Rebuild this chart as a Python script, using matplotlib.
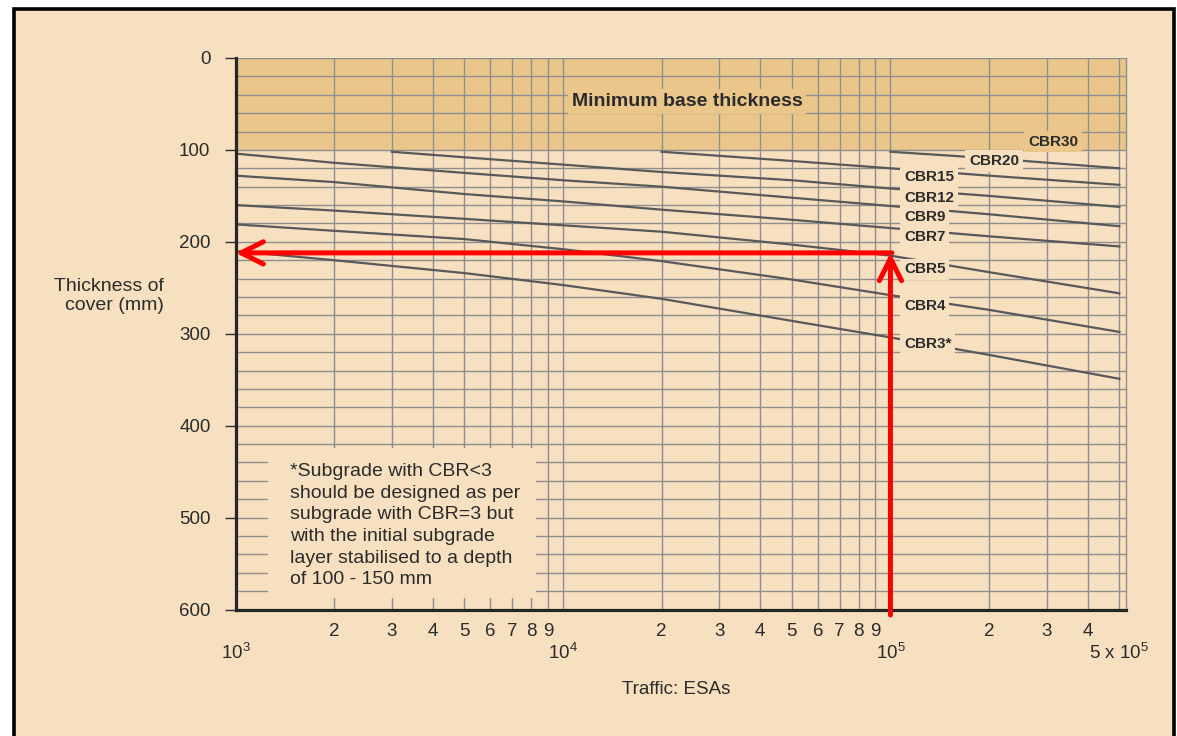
import matplotlib
matplotlib.use('Agg')
import matplotlib.pyplot as plt
from matplotlib.patches import Rectangle
import numpy as np

plt.rcParams['font.family'] = ['Liberation Sans', 'DejaVu Sans']
plt.rcParams['mathtext.default'] = 'regular'

# traffic (ESAs) and cover thickness (mm)
esa = [1e3, 2e3, 5e3, 1e4, 2e4, 5e4, 1e5, 2e5, 5e5]
cbr3 = [210, 220, 234, 247, 262, 286, 304, 323, 349]
cbr4 = [181, 188, 197, 208, 221, 241, 258, 274, 298]
cbr5 = [160, 166, 175, 182, 189, 203, 215, 233, 256]
cbr7 = [128, 135, 148, 156, 165, 176, 185, 194, 205]
cbr9 = [104, 114, 125, 133, 140, 152, 161, 170, 183]
esa_cbr12 = [3e3, 5e3, 1e4, 2e4, 5e4, 1e5, 2e5, 5e5]
cbr12 = [102, 108, 116, 124, 133, 142, 150, 162]
esa_cbr15 = [2e4, 5e4, 1e5, 2e5, 5e5]
cbr15 = [102, 112, 120, 128, 138]
esa_cbr20 = [1e5, 2e5, 5e5]
cbr20 = [102, 109, 120]

# curve labels
label_names = ['CBR30', 'CBR20', 'CBR15', 'CBR12', 'CBR9', 'CBR7', 'CBR5', 'CBR4', 'CBR3*']
label_esa = [2.63e5, 1.74e5, 1.1e5, 1.1e5, 1.1e5, 1.1e5, 1.1e5, 1.1e5, 1.1e5]
label_mm = [91, 112, 129, 152, 173, 195, 230, 270, 311]

min_base = 100          # minimum base thickness band
arrow_esa = 1e5         # worked example
arrow_mm = 212

major_x = [1e3, 1e4, 1e5, 5e5]
major_x_labels = [r'$10^{3}$', r'$10^{4}$', r'$10^{5}$', r'5 x $10^{5}$']
minor_x = [m * d for d in (1e3, 1e4) for m in range(2, 10)] + [2e5, 3e5, 4e5]
minor_x_labels = [str(m) for m in range(2, 10)] * 2 + ['2', '3', '4']

note = ("*Subgrade with CBR<3\nshould be designed as per\nsubgrade with CBR=3 but\n"
        "with the initial subgrade\nlayer stabilised to a depth\nof 100 - 150 mm")

bg = '#f7e0bf'
band = '#ebc68b'
grid_c = '#8e8e8e'
curve_c = '#58595b'
text_c = '#2b2b2b'

fig = plt.figure(figsize=(11.77, 7.36), dpi=100)
fig.patch.set_facecolor('white')
fig.patches.append(Rectangle((13.5 / 1177, -0.1), (1174 - 13.5) / 1177, 1.1 - 8.5 / 736,
                             transform=fig.transFigure, facecolor=bg, edgecolor='black',
                             lw=2.6, zorder=-1))

ax = fig.add_axes([235.5 / 1177, 1 - 609.5 / 736, (1126 - 235.5) / 1177, 551.5 / 736])
ax.set_facecolor(bg)
ax.set_xscale('log')
ax.set_xlim(1e3, 5.24e5)
ax.set_ylim(600, 0)
ax.set_axisbelow(True)

ax.axhspan(0, min_base, color=band, lw=0, zorder=0.1)

ax.set_yticks(np.arange(0, 601, 100))
ax.set_yticks(np.arange(0, 601, 20), minor=True)
ax.set_xticks(major_x, major_x_labels)
ax.set_xticks(minor_x, minor_x_labels, minor=True)
ax.grid(True, which='both', color=grid_c, lw=1)

ax.tick_params(axis='x', which='both', length=0, labelsize=13.5, labelcolor=text_c)
ax.tick_params(axis='x', which='minor', pad=9.5)
ax.tick_params(axis='x', which='major', pad=24)
ax.tick_params(axis='y', which='major', length=8, width=1, color=text_c, pad=10,
               labelsize=13.5, labelcolor=text_c)
ax.tick_params(axis='y', which='minor', length=0)

for s in ('left', 'bottom'):
    ax.spines[s].set_color('#262626')
    ax.spines[s].set_linewidth(2.3)
ax.spines['top'].set_visible(False)
ax.spines['right'].set_color(grid_c)
ax.spines['right'].set_linewidth(1)

# note box hides the grid behind it
ax.add_patch(Rectangle((1.257e3, 424), 8.27e3 - 1.257e3, 164, facecolor=bg,
                       edgecolor='none', zorder=0.9))
ax.text(1.466e3, 441, note, fontsize=14, color=text_c, va='top', ha='left',
        linespacing=1.35, zorder=3)

for xs, ys in [(esa, cbr3), (esa, cbr4), (esa, cbr5), (esa, cbr7), (esa, cbr9),
               (esa_cbr12, cbr12), (esa_cbr15, cbr15), (esa_cbr20, cbr20)]:
    ax.plot(xs, ys, color=curve_c, lw=1.6, zorder=2)

for name, x, y in zip(label_names, label_esa, label_mm):
    fc = band if y < min_base else bg
    ax.text(x, y, name, fontsize=11, fontweight='bold', color=text_c, ha='left',
            va='center', zorder=3,
            bbox=dict(boxstyle='square,pad=0.25', fc=fc, ec='none'))

ax.text(2.39e4, 47, 'Minimum base thickness', fontsize=14, fontweight='bold',
        color=text_c, ha='center', va='center', zorder=3,
        bbox=dict(boxstyle='square,pad=0.2', fc=band, ec='none'))

arrow = dict(arrowstyle='->', color='red', lw=3.6, mutation_scale=40,
             shrinkA=0, shrinkB=0)
ax.annotate('', xy=(arrow_esa, arrow_mm), xytext=(arrow_esa, 606),
            arrowprops=arrow, annotation_clip=False, zorder=5)
ax.annotate('', xy=(1e3, arrow_mm), xytext=(arrow_esa * 1.01, arrow_mm),
            arrowprops=arrow, annotation_clip=False, zorder=5)

fig.text(164 / 1177, 1 - 296 / 736, 'Thickness of\ncover (mm)', fontsize=14,
         color=text_c, ha='right', va='center', multialignment='right', linespacing=1.15)
fig.text(676 / 1177, 1 - 689 / 736, 'Traffic: ESAs', fontsize=13.5, color=text_c,
         ha='center', va='center')

fig.savefig('out.png', dpi=100, facecolor=fig.get_facecolor())
